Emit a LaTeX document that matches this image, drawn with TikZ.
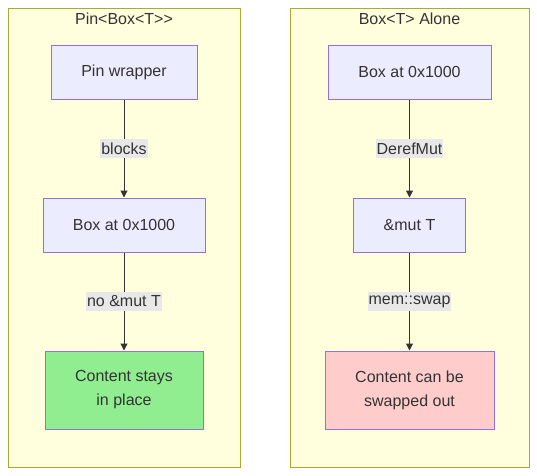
\documentclass[tikz,border=0pt]{standalone}
\usepackage{fontspec}
\setmainfont{Liberation Sans}
\usetikzlibrary{arrows.meta}
\definecolor{clfill}{HTML}{FFFFDE}
\definecolor{clstroke}{HTML}{AAAA33}
\definecolor{ndfill}{HTML}{ECECFF}
\definecolor{ndstroke}{HTML}{9370DB}
\definecolor{txt}{HTML}{333333}
\definecolor{lblbg}{HTML}{E8E8E8}
\definecolor{okgreen}{HTML}{90EE90}
\definecolor{badred}{HTML}{FFCCCC}
\begin{document}
\begin{tikzpicture}[x=1pt,y=-1pt,
  every node/.style={font=\fontsize{16}{24}\selectfont, text=txt},
  cluster/.style={draw=clstroke, fill=clfill, line width=1pt},
  nodebox/.style={draw=ndstroke, fill=ndfill, line width=1pt, inner sep=0pt, align=center},
  edgelbl/.style={fill=lblbg, inner xsep=1pt, inner ysep=3.5pt},
  conn/.style={draw=txt, line width=1pt, -{Triangle[length=7pt,width=7pt]}},
  ttl/.style={inner sep=0pt}
]
\useasboundingbox (0,0) rectangle (537,475);
% clusters
\draw[cluster] (8,8) rectangle (240,467);
\draw[cluster] (290,8) rectangle (529,467);
\node[ttl] (t1) at (124,19) {Pin<Box<T>{}>};
\node[ttl] (t2) at (409.5,19) {Box<T> Alone};
% left nodes
\node[nodebox, minimum width=146pt, minimum height=54pt] (pw) at (124,72) {Pin wrapper};
\node[nodebox, minimum width=162pt, minimum height=54pt] (bl) at (124,225) {Box at 0x1000};
\node[nodebox, fill=okgreen, minimum width=158pt, minimum height=78pt] (cs) at (124,390) {Content stays\\in place};
% right nodes
\node[nodebox, minimum width=163pt, minimum height=54pt] (br) at (409.5,72) {Box at 0x1000};
\node[nodebox, minimum width=112pt, minimum height=54pt] (mt) at (409.5,225) {\&mut T};
\node[nodebox, fill=badred, minimum width=169pt, minimum height=78pt] (cc) at (409.5,390) {Content can be\\swapped out};
% edges
\draw[conn] (pw) -- (bl) node[midway, edgelbl] {blocks};
\draw[conn] (bl) -- (cs) node[midway, edgelbl] {no \&mut T};
\draw[conn] (br) -- (mt) node[midway, edgelbl] {DerefMut};
\draw[conn] (mt) -- (cc) node[midway, edgelbl] {mem::swap};
\end{tikzpicture}
\end{document}
